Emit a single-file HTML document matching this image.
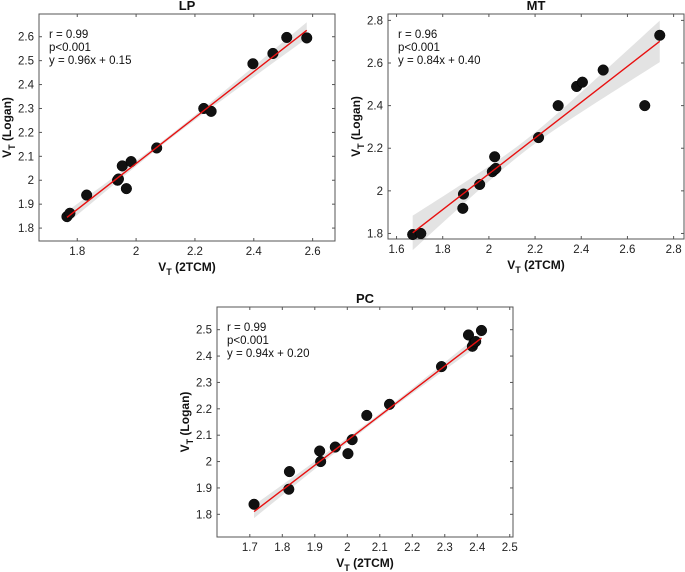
<!DOCTYPE html>
<html><head><meta charset="utf-8"><style>
html,body{margin:0;padding:0;background:#fff;}
svg{display:block;font-family:"Liberation Sans",Arial,sans-serif;}
</style></head><body>
<svg id="fig" width="685" height="572" viewBox="0 0 685 572" xmlns="http://www.w3.org/2000/svg"></svg>
<script>
// LP data
const lpX = [1.765,1.775,1.832,1.937,1.94,1.953,1.967,1.983,2.07,2.23,2.255,2.397,2.465,2.512,2.58];
const lpY = [1.848,1.862,1.938,2.0,2.005,2.06,1.965,2.078,2.135,2.3,2.288,2.487,2.53,2.597,2.595];
const lpXTicks = [1.8,2,2.2,2.4,2.6];
const lpXTickLabels = ["1.8","2","2.2","2.4","2.6"];
const lpYTicks = [1.8,1.9,2,2.1,2.2,2.3,2.4,2.5,2.6];
const lpYTickLabels = ["1.8","1.9","2","2.1","2.2","2.3","2.4","2.5","2.6"];
const lpFit = [0.96,0.15];
// MT data
const mtX = [1.67,1.705,1.89,1.887,1.96,2.015,2.025,2.03,2.025,2.215,2.3,2.38,2.405,2.495,2.675,2.74];
const mtY = [1.795,1.8,1.985,1.918,2.03,2.09,2.1,2.105,2.16,2.25,2.4,2.49,2.51,2.567,2.4,2.73];
const mtXTicks = [1.6,1.8,2,2.2,2.4,2.6,2.8];
const mtXTickLabels = ["1.6","1.8","2","2.2","2.4","2.6","2.8"];
const mtYTicks = [1.8,2,2.2,2.4,2.6,2.8];
const mtYTickLabels = ["1.8","2","2.2","2.4","2.6","2.8"];
const mtFit = [0.84,0.40];
// PC data
const pcX = [1.713,1.82,1.822,1.915,1.918,1.963,2.002,2.015,2.06,2.13,2.29,2.373,2.385,2.39,2.395,2.413];
const pcY = [1.838,1.895,1.962,2.04,2.0,2.055,2.03,2.083,2.175,2.217,2.36,2.48,2.437,2.45,2.455,2.497];
const pcXTicks = [1.7,1.8,1.9,2,2.1,2.2,2.3,2.4,2.5];
const pcXTickLabels = ["1.7","1.8","1.9","2","2.1","2.2","2.3","2.4","2.5"];
const pcYTicks = [1.8,1.9,2,2.1,2.2,2.3,2.4,2.5];
const pcYTickLabels = ["1.8","1.9","2","2.1","2.2","2.3","2.4","2.5"];
const pcFit = [0.94,0.20];

const NS="http://www.w3.org/2000/svg";
const svg=document.getElementById('fig');
function mk(tag,attrs,parent){const e=document.createElementNS(NS,tag);for(const k in attrs)e.setAttribute(k,attrs[k]);(parent||svg).appendChild(e);return e;}

function panel(cfg){
  const g=mk('g',{});
  
  
  const {L,R,T,B,xd,yd}=cfg;
  const sx=v=>L+(v-xd[0])/(xd[1]-xd[0])*(R-L);
  const sy=v=>B-(v-yd[0])/(yd[1]-yd[0])*(B-T);
  // band
  const xs=cfg.x, n=xs.length, m=xs.reduce((a,b)=>a+b,0)/n;
  const x0=Math.min(...xs), x1=Math.max(...xs);
  const [a,b]=cfg.fit;
  let up=[],lo=[];
  for(let i=0;i<=40;i++){const x=x0+(x1-x0)*i/40;const hw=Math.sqrt(cfg.w0*cfg.w0+cfg.k*cfg.k*(x-m)*(x-m));const y=a*x+b;up.push(sx(x)+','+sy(y+hw));lo.unshift(sx(x)+','+sy(y-hw));}
  const band=mk('polygon',{points:up.concat(lo).join(' '),fill:'#e3e3e3',stroke:'none'},g);
  
  
  // box
  const box=mk('rect',{x:L,y:T,width:R-L,height:B-T,fill:'none',stroke:'#555','stroke-width':1},g);
  
  
  // ticks
  cfg.xt.forEach((t,i)=>{const X=sx(t);
    mk('line',{x1:X,x2:X,y1:B,y2:B-3,stroke:'#555'},g);mk('line',{x1:X,x2:X,y1:T,y2:T+3,stroke:'#555'},g);
    const tx=mk('text',{x:X,y:B+14,'text-anchor':'middle','font-size':11.5,fill:'#222'},g);tx.textContent=cfg.xl[i];
    
    });
  cfg.yt.forEach((t,i)=>{const Y=sy(t);
    mk('line',{x1:L,x2:L+3,y1:Y,y2:Y,stroke:'#555'},g);mk('line',{x1:R,x2:R-3,y1:Y,y2:Y,stroke:'#555'},g);
    const tx=mk('text',{x:L-5,y:Y+4,'text-anchor':'end','font-size':11.5,fill:'#222'},g);tx.textContent=cfg.yl[i];
    
    });
  // points
  xs.forEach((x,i)=>{const c=mk('circle',{cx:sx(x),cy:sy(cfg.y[i]),r:5.3,fill:'#111',stroke:'#000','stroke-width':0.5},g);
    
    });
  // fit line
  const ln=mk('line',{x1:sx(x0),y1:sy(a*x0+b),x2:sx(x1),y2:sy(a*x1+b),stroke:'#e81010','stroke-width':1.4},g);
  
  
  // title
  const ti=mk('text',{x:(L+R)/2,y:T-4,'text-anchor':'middle','font-size':13,'font-weight':'bold',fill:'#111'},g);ti.textContent=cfg.name.toUpperCase();
  
  
  // stats
  cfg.stats.forEach((s,i)=>{const t=mk('text',{x:L+10,y:T+24+i*13,'font-size':11.5,fill:'#111'},g);t.textContent=s;
    
    });
  // x label
  const xlab=mk('text',{x:(L+R)/2,y:B+30,'text-anchor':'middle','font-size':12,'font-weight':'bold',fill:'#111'},g);
  xlab.innerHTML='V<tspan dy="4" font-size="9">T</tspan><tspan dy="-4"> (2TCM)</tspan>';
  
  
  const ylab=mk('text',{x:0,y:0,'text-anchor':'middle','font-size':12,'font-weight':'bold',fill:'#111',transform:`translate(${L-28},${(T+B)/2}) rotate(-90)`},g);
  ylab.innerHTML='V<tspan dy="4" font-size="9">T</tspan><tspan dy="-4"> (Logan)</tspan>';
  
  
}
panel({name:'lp',L:39,R:335,T:14,B:241,xd:[1.67,2.676],yd:[1.746,2.695],x:lpX,y:lpY,fit:lpFit,xt:lpXTicks,xl:lpXTickLabels,yt:lpYTicks,yl:lpYTickLabels,w0:0.008,k:0.07,stats:['r = 0.99','p<0.001','y = 0.96x + 0.15']});
panel({name:'mt',L:388,R:684,T:14,B:239,xd:[1.563,2.845],yd:[1.774,2.83],x:mtX,y:mtY,fit:mtFit,xt:mtXTicks,xl:mtXTickLabels,yt:mtYTicks,yl:mtYTickLabels,w0:0.025,k:0.16,stats:['r = 0.96','p<0.001','y = 0.84x + 0.40']});
panel({name:'pc',L:217,R:513,T:307,B:537,xd:[1.599,2.51],yd:[1.714,2.586],x:pcX,y:pcY,fit:pcFit,xt:pcXTicks,xl:pcXTickLabels,yt:pcYTicks,yl:pcYTickLabels,w0:0.008,k:0.06,stats:['r = 0.99','p<0.001','y = 0.94x + 0.20']});
</script>
</body></html>
